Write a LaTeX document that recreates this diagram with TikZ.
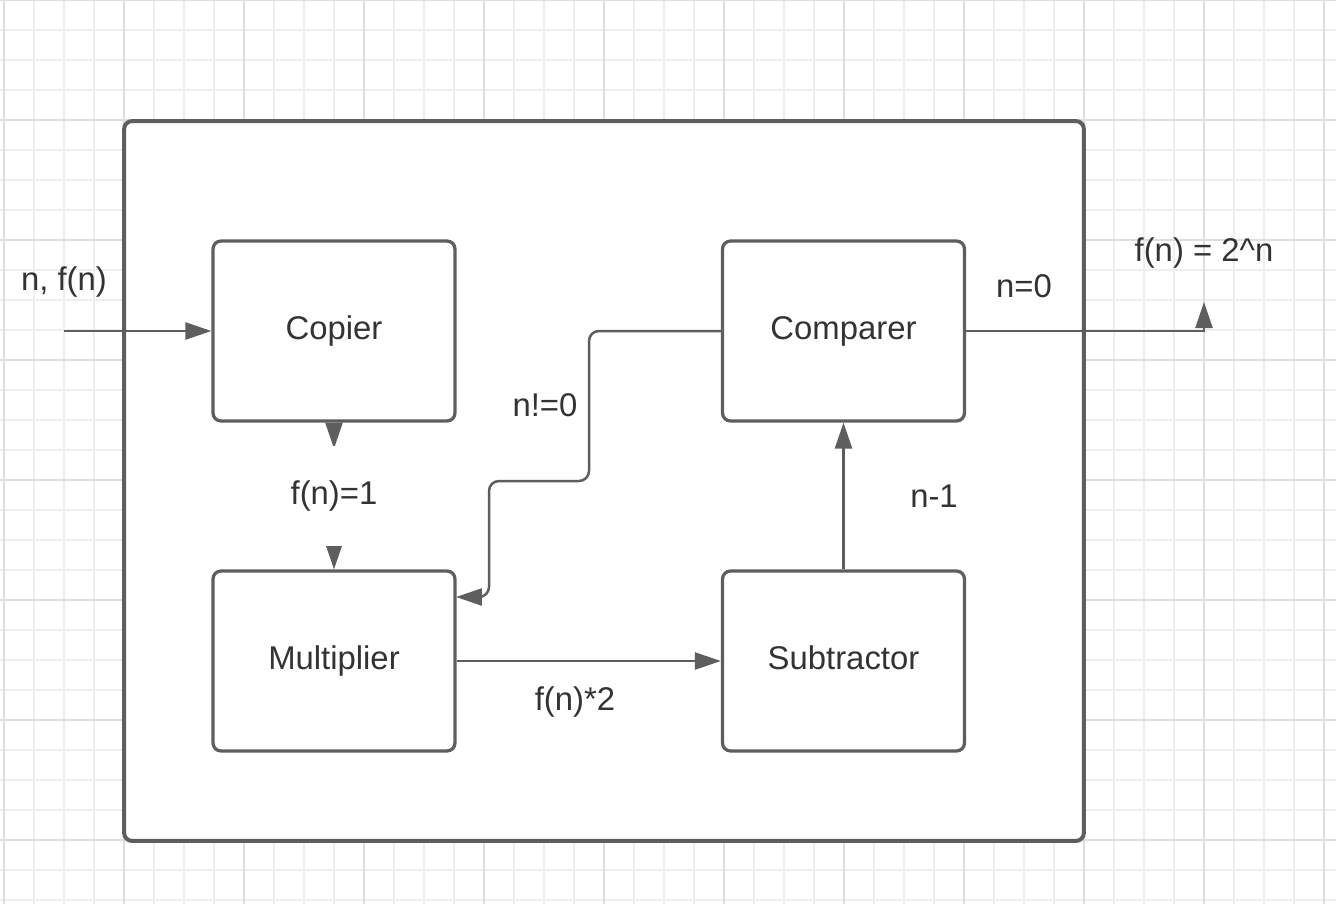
\documentclass[tikz,border=0pt]{standalone}
\usepackage{fontspec}
\setmainfont{Liberation Sans}
\usetikzlibrary{arrows.meta}
\definecolor{linegray}{HTML}{5E5E5E}
\definecolor{textgray}{HTML}{333333}
\definecolor{gridminor}{HTML}{EEEEEE}
\definecolor{gridmajor}{HTML}{DEDEDE}
\begin{document}
\begin{tikzpicture}[x=0.02cm,y=-0.02cm,
    every node/.style={text=textgray,font=\fontsize{18.7}{22}\selectfont},
    block/.style={draw=linegray,fill=white,line width=0.065cm,rounded corners=0.16cm,
      minimum width=4.84cm,minimum height=3.6cm,text height=13.5pt,text depth=3.9pt},
    conn/.style={draw=linegray,line width=0.05cm,-{Triangle[length=0.52cm,width=0.34cm]}},
    lbl/.style={inner sep=1pt}]
  \useasboundingbox (0,0) rectangle (1336,904);
  \fill[white] (0,0) rectangle (1336,904);
  % grid
  \foreach \x in {4,34,...,1334} \draw[gridminor,line width=0.022cm] (\x,0) -- (\x,904);
  \foreach \y in {0,30,...,900} \draw[gridminor,line width=0.022cm] (0,\y) -- (1336,\y);
  \foreach \x in {4,124,...,1324} \draw[gridmajor,line width=0.022cm] (\x,0) -- (\x,904);
  \foreach \y in {0,120,...,900} \draw[gridmajor,line width=0.022cm] (0,\y) -- (1336,\y);
  % system box
  \node[block,line width=0.08cm,minimum width=19.2cm,minimum height=14.4cm] (sys) at (604,481) {};
  \node[block] (cop) at (334,331) {Copier};
  \node[block] (cmp) at (843.5,331) {Comparer};
  \node[block] (mul) at (334,661) {Multiplier};
  \node[block] (sub) at (843.5,661) {Subtractor};
  \coordinate (in) at (64,331);
  \coordinate (out) at (1204,302);
  \coordinate (mulin) at (456,597);
  % connectors
  \draw[conn] (in) -- (cop.west);
  \draw[conn,{Triangle[length=0.52cm,width=0.34cm,reversed]}-{Triangle[length=0.52cm,width=0.34cm]}]
    (cop) -- node[fill=white,minimum height=2.0cm,inner sep=1pt] (fone) {f(n)=1} (mul);
  \draw[conn,rounded corners=0.2cm] (cmp.west) -- (589,331) -- (589,481) -- (489,481) -- (489,597) -- (mulin);
  \draw[conn] (mul.east) -- (sub.west);
  \draw[conn] (sub.north) -- (cmp.south);
  \draw[conn] (cmp.east) -- (1204,331) -- (out);
  % labels
  \node[lbl] (lin) at (64,282) {n, f(n)};
  \node[lbl] (lne) at (545,405) {n!=0};
  \node[lbl] (lmul) at (575,702) {f(n)*2};
  \node[lbl] (lsub) at (934,496) {n-1};
  \node[lbl] (leq) at (1024,286) {n=0};
  \node[lbl] (lout) at (1204,253) {f(n) = 2\^{}n};
\end{tikzpicture}
\end{document}
